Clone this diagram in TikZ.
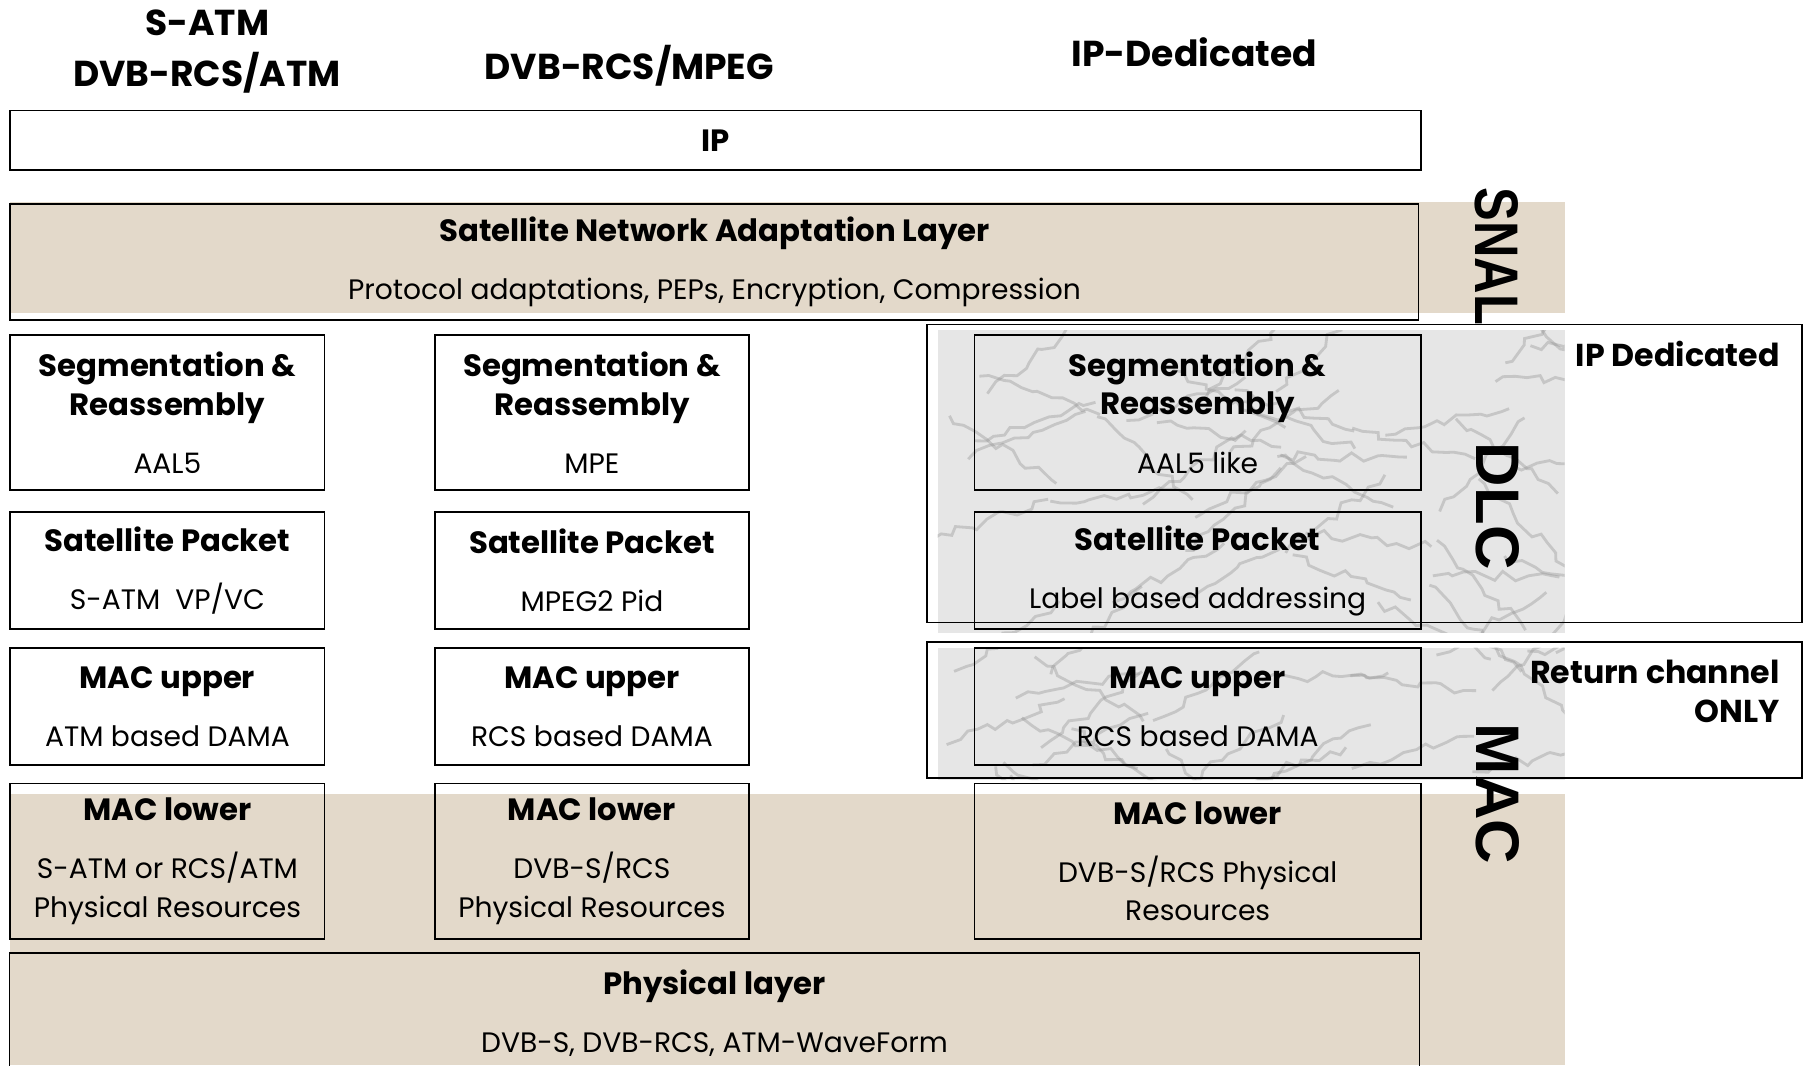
\documentclass[tikz,border=0pt]{standalone}
\usepackage{fontspec}
\setmainfont{Poppins}
\newfontfamily\sidefont{Liberation Sans}
\usetikzlibrary{decorations.pathmorphing}

\definecolor{beige}{RGB}{227,217,202}
\definecolor{marble}{RGB}{230,230,230}
\definecolor{vein}{RGB}{150,150,150}
\newcommand{\ttl}[1]{{\fontsize{17.5}{22}\selectfont\bfseries #1}}

\begin{document}
\begin{tikzpicture}
	[x=0.023cm,y=-0.023cm,
	box/.style={draw,line width=1pt,inner sep=0pt,align=center,
		font=\fontsize{16}{22}\selectfont},
	size/.style 2 args={minimum width=#1*0.023cm,minimum height=#2*0.023cm},
	head/.style={align=center,font=\fontsize{20.5}{29}\selectfont\bfseries},
	side/.style={rotate=-90,inner sep=0pt,font=\fontsize{35}{35}\selectfont\sidefont\bfseries},
	note/.style={inner sep=0pt,font=\fontsize{18}{22}\selectfont\bfseries}]
	\useasboundingbox (0,0) rectangle (1568,926);
	% textured bands
	\fill [beige] (9,176) rectangle (1360,272);
	\fill [beige] (9,690) rectangle (1360,926);
	\fill [marble] (815,287) rectangle (1360,550);
	\fill [marble] (815,563) rectangle (1360,678);
	\begin{scope}
		\clip (815,287) rectangle (1360,550) (815,563) rectangle (1360,678);
		\pgfmathsetseed{11}
		\foreach \i in {1,...,70}{
			\pgfmathsetmacro\xa{780+600*rnd}
			\pgfmathsetmacro\ya{270+420*rnd}
			\pgfmathsetmacro\an{-50+100*rnd}
			\draw [vein,opacity=0.4,line width=1.6pt,decorate,
				decoration={random steps,segment length=6pt,amplitude=3pt}]
				(\xa,\ya) -- ++(\an:110);
		}
	\end{scope}
	% stack names
	\node (atm) [head] at (180,45) {S-ATM\\DVB-RCS/ATM};
	\node (mpeg) [head] at (547,57) {DVB-RCS/MPEG};
	\node (ded) [head] at (1038,45) {IP-Dedicated};
	% common layers
	\node (ip) [box,size={1226}{52}] at (622,122) {\ttl{IP}};
	\node (snal) [box,size={1224}{101}] at (621,227.5)
		{\ttl{Satellite Network Adaptation Layer}\\[11pt]
		 Protocol adaptations, PEPs, Encryption, Compression};
	% S-ATM column
	\node (sar1) [box,fill=white,size={273}{135}] at (145.5,358.5)
		{\ttl{Segmentation \&}\\\ttl{Reassembly}\\[11pt]AAL5};
	\node (pkt1) [box,fill=white,size={273}{102}] at (145.5,496)
		{\ttl{Satellite Packet}\\[11pt]S-ATM\ \ VP/VC};
	\node (up1) [box,fill=white,size={273}{102}] at (145.5,614)
		{\ttl{MAC upper}\\[11pt]ATM based DAMA};
	\node (low1) [box,size={273}{135}] at (145.5,748.5)
		{\ttl{MAC lower}\\[11pt]S-ATM or RCS/ATM\\Physical Resources};
	% MPEG column
	\node (sar2) [box,fill=white,size={273}{135}] at (514.5,358.5)
		{\ttl{Segmentation \&}\\\ttl{Reassembly}\\[11pt]MPE};
	\node (pkt2) [box,fill=white,size={273}{102}] at (514.5,496)
		{\ttl{Satellite Packet}\\[11pt]MPEG2 Pid};
	\node (up2) [box,fill=white,size={273}{102}] at (514.5,614)
		{\ttl{MAC upper}\\[11pt]RCS based DAMA};
	\node (low2) [box,size={273}{135}] at (514.5,748.5)
		{\ttl{MAC lower}\\[11pt]DVB-S/RCS\\Physical Resources};
	% IP dedicated column
	\node (ipd) [box,size={760}{259}] at (1186,411.5) {};
	\node (ret) [box,size={760}{118}] at (1186,617) {};
	\node (sar3) [box,size={388}{135}] at (1041,358.5)
		{\ttl{Segmentation \&}\\\ttl{Reassembly}\\[11pt]AAL5 like};
	\node (pkt3) [box,size={388}{102}] at (1041,496)
		{\ttl{Satellite Packet}\\[11pt]Label based addressing};
	\node (up3) [box,size={388}{102}] at (1041,614)
		{\ttl{MAC upper}\\[11pt]RCS based DAMA};
	\node (low3) [box,size={388}{135}] at (1041,748.5)
		{\ttl{MAC lower}\\[11pt]DVB-S/RCS Physical\\Resources};
	\node (ipdtxt) [note,anchor=east] at (1547,308) {IP Dedicated};
	\node (rettxt) [note,anchor=east,align=right] at (1547,601) {Return channel\\ONLY};
	% physical layer, open at the bottom
	\node (phy) [box,draw=none,size={1224}{104}] at (621,881)
		{\ttl{Physical layer}\\[11pt]DVB-S, DVB-RCS, ATM-WaveForm};
	\draw [line width=1pt] (phy.south west) |- (phy.north east) -- (phy.south east);
	% sublayer names
	\node (snalname) [side,xscale=0.82] at (1301,223) {SNAL};
	\node (dlc) [side] at (1302,440) {DLC};
	\node (mac) [side] at (1302,690) {MAC};
\end{tikzpicture}
\end{document}
